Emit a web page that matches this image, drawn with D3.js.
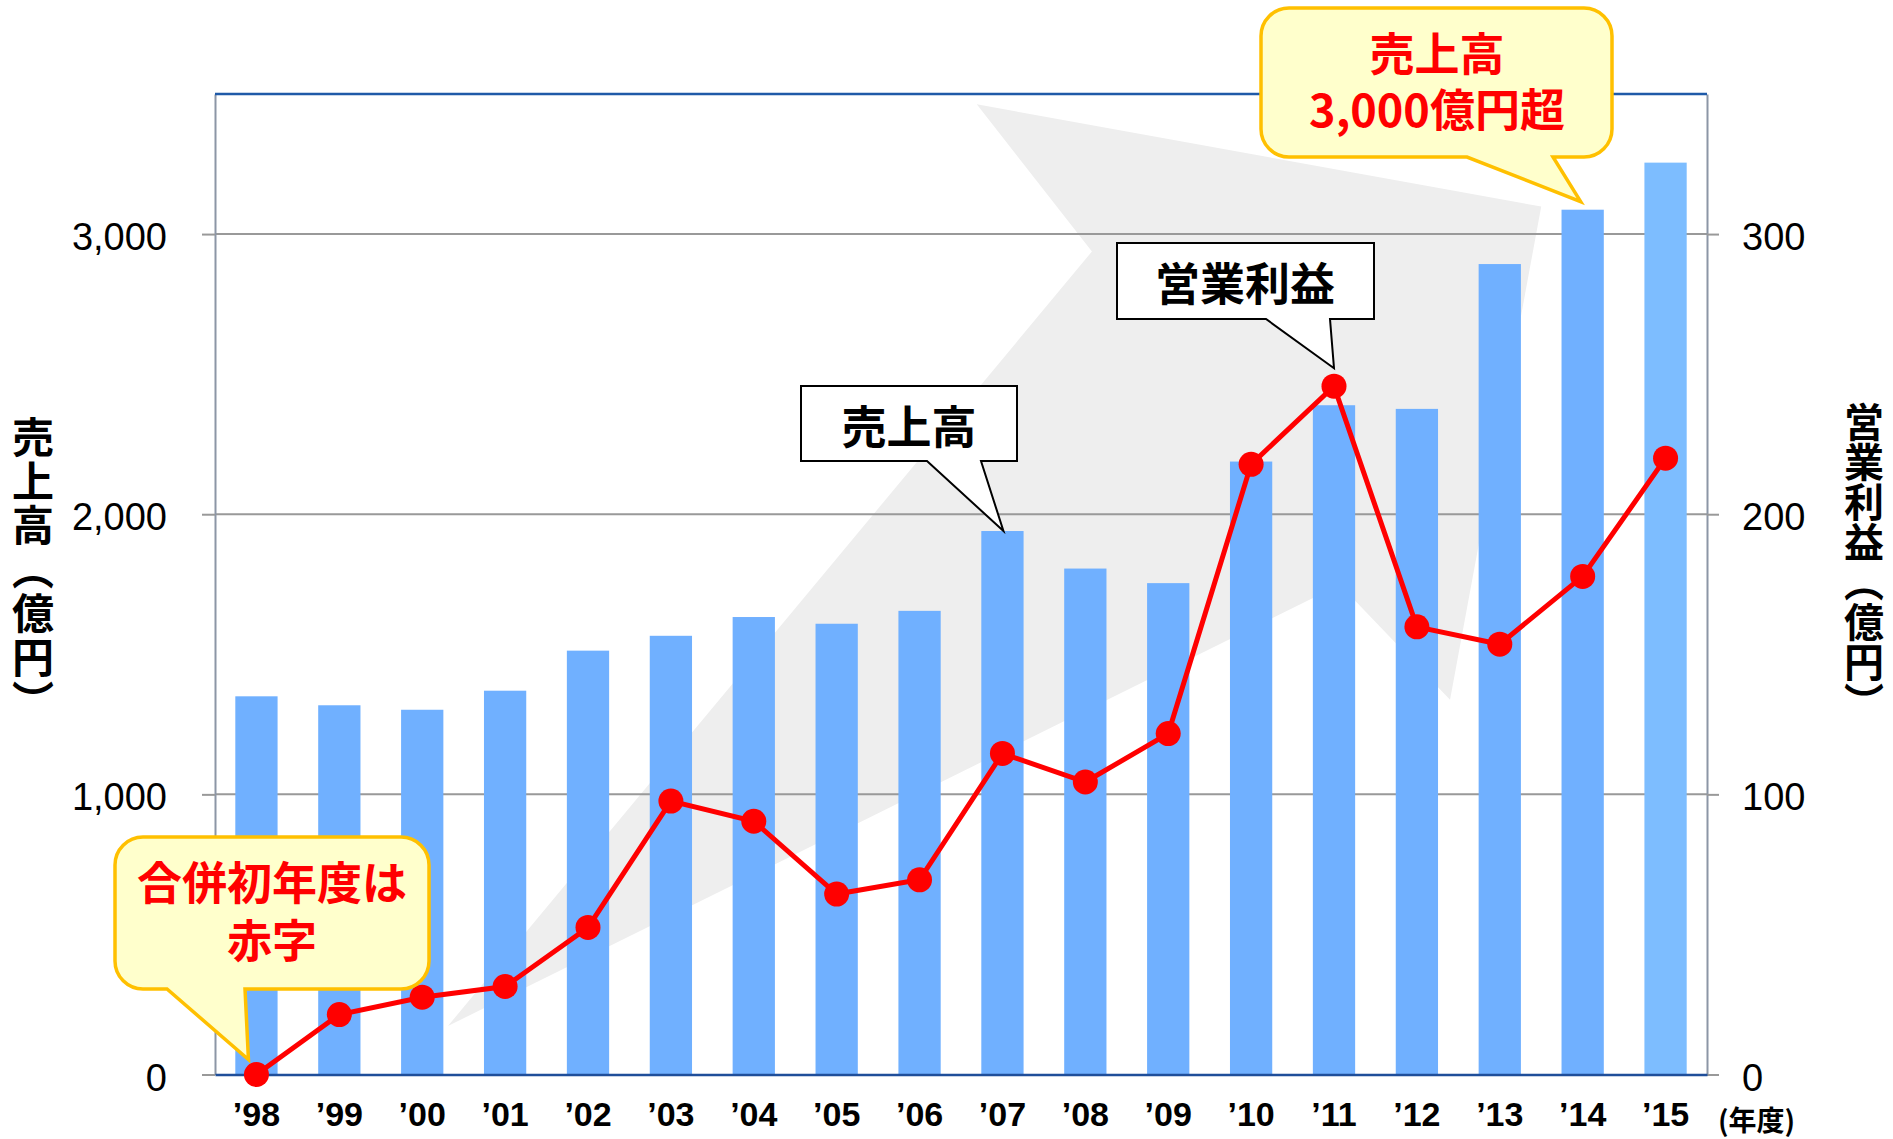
<html>
<script src="https://d3js.org/d3.v7.min.js"></script>
<style>
  body { margin: 0; background: #fff; }
  .jp { font-family: "Noto Sans CJK JP", "Noto Sans", sans-serif; font-weight: bold; }
  .num { font-family: "Liberation Sans", Arial, sans-serif; }
  .vert { writing-mode: vertical-rl; text-orientation: upright; }
</style>
<body>
<svg id="chart" width="1893" height="1139"></svg>
<script>
// data
const years = ["’98","’99","’00","’01","’02","’03","’04","’05","’06","’07","’08","’09","’10","’11","’12","’13","’14","’15"];
const sales = [1350, 1318, 1302, 1370, 1513, 1566, 1633, 1609, 1655, 1940, 1806, 1754, 2188, 2389, 2376, 2893, 3087, 3255];
const profit = [0, 21.4, 27.6, 31.4, 52.5, 97.6, 90.4, 64.4, 69.5, 114.6, 104.4, 121.7, 217.8, 245.7, 159.8, 153.6, 177.8, 220];
const leftTicks = [0, 1000, 2000, 3000];
const rightTicks = [0, 100, 200, 300];

// big grey background arrow, in (slot position, sales value)
const arrowPts = [[2.81, 173], [10.58, 2938], [9.19, 3463], [16.0, 3098], [14.9, 1338], [13.57, 1748]];

const svg = d3.select("#chart");
const W = 1893, H = 1139;
const m = {left: 215, right: 186, top: 94, bottom: 64.5};
const x0 = m.left, x1 = W - m.right, yTop = m.top, yBot = H - m.bottom;

const x = d3.scaleBand().domain(years).range([x0, x1]).paddingInner(0.49).paddingOuter(0.245);
const xi = d3.scaleLinear().domain([0, years.length]).range([x0, x1]);
const y = d3.scaleLinear().domain([0, 3500]).range([yBot, yTop]);
const y2 = d3.scaleLinear().domain([0, 350]).range([yBot, yTop]);

//background arrow
svg.append("path")
  .attr("d", d3.line()(arrowPts.map(p => [xi(p[0]), y(p[1])])) + "Z")
  .attr("fill", "#eeeeee");

//gridlines
svg.append("g").selectAll("line")
  .data(leftTicks.filter(d => d > 0))
  .enter().append("line")
  .attr("x1", x0).attr("x2", x1)
  .attr("y1", d => y(d)).attr("y2", d => y(d))
  .attr("stroke", "#999").attr("stroke-width", 2);

//left axis
const ax = svg.append("g").attr("transform", "translate(" + x0 + ",0)")
  .call(d3.axisLeft(y).tickValues(leftTicks).tickSize(13).tickSizeOuter(0).tickPadding(35).tickFormat(d3.format(",")));
ax.select(".domain").attr("stroke", "#8c96a6").attr("stroke-width", 2);
ax.selectAll(".tick line").attr("stroke", "#999").attr("stroke-width", 2);
ax.selectAll("text").attr("class", "num").attr("font-size", 38).attr("dy", "0.41em").attr("fill", "#000");

//right axis
const ar = svg.append("g").attr("transform", "translate(" + x1 + ",0)")
  .call(d3.axisRight(y2).tickValues(rightTicks).tickSize(12).tickSizeOuter(0).tickPadding(23));
ar.select(".domain").attr("stroke", "#8c96a6").attr("stroke-width", 2);
ar.selectAll(".tick line").attr("stroke", "#999").attr("stroke-width", 2);
ar.selectAll("text").attr("class", "num").attr("font-size", 38).attr("dy", "0.41em").attr("fill", "#000");

//top border
svg.append("line").attr("x1", x0).attr("x2", x1).attr("y1", yTop).attr("y2", yTop)
  .attr("stroke", "#1f5aa8").attr("stroke-width", 2.5);

//bars
svg.append("g").selectAll("rect")
  .data(sales)
  .enter().append("rect")
  .attr("x", (d, i) => x(years[i]))
  .attr("width", x.bandwidth())
  .attr("y", d => y(d))
  .attr("height", d => yBot - y(d))
  .attr("fill", (d, i) => i === sales.length - 1 ? "#7dbdff" : "#70b0ff");

//bottom axis
const axb = svg.append("g").attr("transform", "translate(0," + yBot + ")")
  .call(d3.axisBottom(x).tickSize(0).tickPadding(27));
axb.select(".domain").attr("stroke", "#1f4e9a").attr("stroke-width", 2.5);
axb.selectAll("text").attr("class", "num").attr("font-size", 34).attr("font-weight", "bold").attr("fill", "#000");

svg.append("text").attr("class", "jp")
  .attr("x", 1718).attr("y", 1131)
  .attr("font-size", 28)
  .text("(年度)");

//profit line
const line = d3.line()
  .x((d, i) => x(years[i]) + x.bandwidth() / 2)
  .y(d => y2(d));
svg.append("path").datum(profit)
  .attr("d", line)
  .attr("fill", "none").attr("stroke", "#ff0000").attr("stroke-width", 5);
svg.append("g").selectAll("circle")
  .data(profit)
  .enter().append("circle")
  .attr("cx", (d, i) => x(years[i]) + x.bandwidth() / 2)
  .attr("cy", d => y2(d))
  .attr("r", 12.5)
  .attr("fill", "#ff0000");

//axis titles (vertical)
svg.append("text").attr("class", "jp vert")
  .attr("x", 33).attr("y", 416)
  .attr("font-size", 42).attr("letter-spacing", 2)
  .text("売上高︵億円︶");
svg.append("text").attr("class", "jp vert")
  .attr("x", 1864).attr("y", 402)
  .attr("font-size", 40)
  .text("営業利益︵億円︶");

//callouts
function callout(bx0, by0, bx1, by1, t1, t2, tip, r) {
  let p = "M" + (bx0 + r) + "," + by0 + " H" + (bx1 - r);
  if (r) p += " A" + r + "," + r + " 0 0 1 " + bx1 + "," + (by0 + r);
  p += " V" + (by1 - r);
  if (r) p += " A" + r + "," + r + " 0 0 1 " + (bx1 - r) + "," + by1;
  p += " H" + t2 + " L" + tip[0] + "," + tip[1] + " L" + t1 + "," + by1 + " H" + (bx0 + r);
  if (r) p += " A" + r + "," + r + " 0 0 1 " + bx0 + "," + (by1 - r);
  p += " V" + (by0 + r);
  if (r) p += " A" + r + "," + r + " 0 0 1 " + (bx0 + r) + "," + by0;
  return p + " Z";
}

function xc(i) { return x(years[i]) + x.bandwidth() / 2; }

// 売上高 (white)
svg.append("path")
  .attr("d", callout(801, 386, 1017, 461, 927, 981, [xc(9) + 1, y(sales[9])], 0))
  .attr("fill", "#fff").attr("stroke", "#000").attr("stroke-width", 2);
svg.append("text").attr("class", "jp")
  .attr("x", 909).attr("y", 424).attr("font-size", 45)
  .attr("text-anchor", "middle").attr("dominant-baseline", "central")
  .text("売上高");

// 営業利益 (white)
svg.append("path")
  .attr("d", callout(1117, 243, 1374, 319, 1266, 1330, [xc(13), y2(profit[13]) - 18], 0))
  .attr("fill", "#fff").attr("stroke", "#000").attr("stroke-width", 2);
svg.append("text").attr("class", "jp")
  .attr("x", 1245).attr("y", 281).attr("font-size", 45)
  .attr("text-anchor", "middle").attr("dominant-baseline", "central")
  .text("営業利益");

// 合併初年度は赤字 (yellow)
svg.append("path")
  .attr("d", callout(115, 837, 429, 989, 167, 245, [xc(0) - 8, y2(profit[0]) - 15], 28))
  .attr("fill", "#ffffcc").attr("stroke", "#ffc000").attr("stroke-width", 3.5);
svg.append("text").attr("class", "jp")
  .attr("x", 272).attr("font-size", 45).attr("fill", "#ff0000")
  .attr("text-anchor", "middle").attr("dominant-baseline", "central")
  .selectAll("tspan").data(["合併初年度は", "赤字"]).enter().append("tspan")
  .attr("x", 272).attr("y", (d, i) => 880 + i * 58)
  .text(d => d);

// 売上高 3,000億円超 (yellow)
svg.append("path")
  .attr("d", callout(1261, 8, 1612, 157, 1467, 1553, [xc(16) - 2, y(sales[16]) - 8], 28))
  .attr("fill", "#ffffcc").attr("stroke", "#ffc000").attr("stroke-width", 3.5);
svg.append("text").attr("class", "jp")
  .attr("x", 1437).attr("font-size", 45).attr("fill", "#ff0000")
  .attr("text-anchor", "middle").attr("dominant-baseline", "central")
  .selectAll("tspan").data(["売上高", "3,000億円超"]).enter().append("tspan")
  .attr("x", 1437).attr("y", (d, i) => 51 + i * 56)
  .text(d => d);
</script>
</body>
</html>
